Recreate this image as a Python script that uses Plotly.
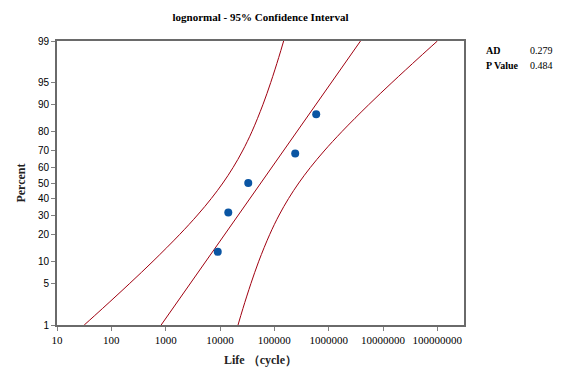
import plotly.graph_objects as go
from statistics import NormalDist

# ---- data ----
life_points = [9080, 14200, 33100, 242000, 589000]
pct_points = [12.96, 31.48, 50.0, 68.52, 87.04]

fit_pct = [1, 99]
fit_life = [825, 3850000]

band_pct = [1, 2, 5, 10, 20, 30, 40, 50, 60, 70, 80, 90, 95, 98, 99]
lower_life = [31.7, 69.2, 218, 585, 1816, 3857, 6923, 11290, 17380, 25910,
              38630, 61470, 85640, 120100, 148200]
upper_life = [21440, 26450, 37100, 51690, 82280, 122600, 182900, 281300,
              458800, 823700, 1749000, 5431000, 14580000, 45930000, 100100000]

y_tick_pct = [1, 5, 10, 20, 30, 40, 50, 60, 70, 80, 90, 95, 99]
x_tick_vals = [10, 100, 1000, 10000, 100000, 1000000, 10000000, 100000000]
x_tick_text = [str(v) for v in x_tick_vals]

stats_labels = ["AD", "P Value"]
stats_values = ["0.279", "0.484"]

# probability (normal quantile) scale for the y axis
nd = NormalDist()
def z(p):
    return nd.inv_cdf(p / 100.0)

RED = "#A00010"
BLUE = "#0A55A3"

fig = go.Figure()
fig.add_trace(go.Scatter(x=lower_life, y=[z(p) for p in band_pct], mode="lines",
                         line=dict(color=RED, width=1, shape="spline"), hoverinfo="skip"))
fig.add_trace(go.Scatter(x=upper_life, y=[z(p) for p in band_pct], mode="lines",
                         line=dict(color=RED, width=1, shape="spline"), hoverinfo="skip"))
fig.add_trace(go.Scatter(x=fit_life, y=[z(p) for p in fit_pct], mode="lines",
                         line=dict(color=RED, width=1)))
fig.add_trace(go.Scatter(x=life_points, y=[z(p) for p in pct_points], mode="markers",
                         marker=dict(color=BLUE, size=8)))

serif = "Liberation Serif, Times New Roman, serif"
sans = "Liberation Sans, Arial, sans-serif"

W, H = 566, 377
ML, MR, MT, MB = 57, 102, 41, 50
PW, PH = W - ML - MR, H - MT - MB

fig.update_layout(
    width=W, height=H,
    margin=dict(l=ML, r=MR, t=MT, b=MB),
    paper_bgcolor="white", plot_bgcolor="white",
    showlegend=False,
    title=dict(text="<b>lognormal - 95% Confidence Interval</b>",
               x=0.5, xref="paper", xanchor="center",
               y=1 - 17 / H, yref="container", yanchor="middle",
               font=dict(family=serif, size=11, color="black")),
    xaxis=dict(type="log", range=[1, 8.49],
               tickvals=x_tick_vals, ticktext=x_tick_text,
               ticks="outside", ticklen=4, tickcolor="#808080",
               showline=True, linecolor="#6a6a6a", linewidth=2, mirror=True,
               showgrid=False, zeroline=False,
               tickfont=dict(family=serif, size=11, color="black"),
               title=dict(text="<b>Life （cycle）</b>", standoff=10,
                          font=dict(family=serif, size=12, color="#222"))),
    yaxis=dict(range=[z(1), z(99)],
               tickvals=[z(p) for p in y_tick_pct], ticktext=[str(p) for p in y_tick_pct],
               ticks="outside", ticklen=4, tickcolor="#808080",
               showline=True, linecolor="#6a6a6a", linewidth=2, mirror=True,
               showgrid=False, zeroline=False,
               tickfont=dict(family=sans, size=10, color="black"),
               title=dict(text="<b>Percent</b>", standoff=10,
                          font=dict(family=serif, size=12, color="#222"))),
)

for i, (lab, val) in enumerate(zip(stats_labels, stats_values)):
    yy = 51 + i * 15
    ypos = 1 - (yy - MT) / PH
    fig.add_annotation(text="<b>%s</b>" % lab, xref="paper", yref="paper",
                       x=(484 - ML) / PW, y=ypos,
                       xanchor="left", yanchor="middle", showarrow=False,
                       font=dict(family=serif, size=10, color="black"))
    fig.add_annotation(text=val, xref="paper", yref="paper",
                       x=(528 - ML) / PW, y=ypos,
                       xanchor="left", yanchor="middle", showarrow=False,
                       font=dict(family=serif, size=10, color="black"))

fig.write_html("out.html", config={"displayModeBar": False},
               post_script="document.body.style.margin='0';")
